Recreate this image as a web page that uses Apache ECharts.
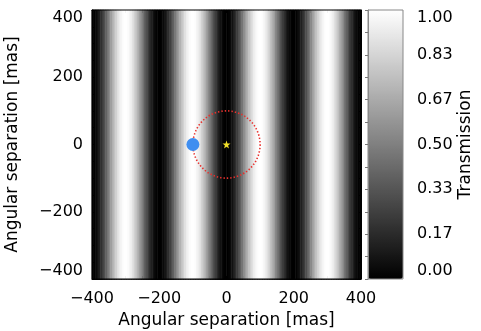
<!DOCTYPE html>
<html>
<head>
<meta charset="utf-8">
<script src="https://cdn.jsdelivr.net/npm/echarts@6/dist/echarts.min.js"></script>
<style>
html, body { margin: 0; padding: 0; background: #fff; }
#main { width: 481px; height: 331px; }
</style>
</head>
<body>
<div id="main"></div>
<script>
// transmission across one 200-mas fringe period, in 5-mas wide columns (dark -> bright -> dark)
var fringe = [
	0.00, 0.01, 0.04, 0.07, 0.12, 0.18, 0.24, 0.31, 0.38, 0.46,
	0.54, 0.62, 0.69, 0.76, 0.82, 0.88, 0.93, 0.96, 0.99, 1.00,
	1.00, 0.99, 0.96, 0.93, 0.88, 0.82, 0.76, 0.69, 0.62, 0.54,
	0.46, 0.38, 0.31, 0.24, 0.18, 0.12, 0.07, 0.04, 0.01, 0.00
];
// the map from x = -400 to +400 mas shows four identical periods
var transmission = fringe.concat(fringe, fringe, fringe);
var hostStar = [[0, 0]];
var companion = [[-100, 0]];
var ring = [[0, 0, 100]];   // centre x, centre y, radius (mas)
// colour bar is labelled in sixths of full transmission
var colorbarSteps = 6;

var font = 'DejaVu Sans';
var minus = function (v) { return String(v).replace('-', '\u2212'); };

var columns = transmission.map(function (v, i) { return i; });
var cells = transmission.map(function (v, i) { return [i, 0, v]; });

function frameAxis(extra) {
	var a = {
		min: -400, max: 400, interval: 200,
		axisLine: { show: true, onZero: false, lineStyle: { color: '#000', width: 1 } },
		axisTick: { show: true, inside: true, length: 3, lineStyle: { color: '#000' } },
		minorTick: { show: true, splitNumber: 4, length: 3, lineStyle: { color: '#000' } },
		splitLine: { show: false },
		axisLabel: { show: false }
	};
	for (var k in extra) a[k] = extra[k];
	return a;
}

var myChart = echarts.init(document.getElementById('main'));

myChart.setOption({
	animation: false,
	textStyle: { fontFamily: font },
	grid: [
		{ left: 92, top: 10, width: 269, height: 269, show: true, borderColor: '#000', borderWidth: 1, z: 5,
			containLabel: false, outerBoundsMode: 'none' },
		{ left: 368, top: 10, width: 35, height: 269, show: true, borderColor: '#888', borderWidth: 1,
			backgroundColor: 'transparent', z: 6, containLabel: false, outerBoundsMode: 'none' }
	],
	xAxis: [
		{ type: 'category', gridIndex: 0, data: columns, show: false },
		frameAxis({ type: 'value', gridIndex: 0, position: 'bottom',
			name: 'Angular separation [mas]', nameLocation: 'middle', nameGap: 33,
			nameTextStyle: { fontSize: 17, color: '#000', fontFamily: font },
			axisLabel: { show: true, margin: 12, fontSize: 16, color: '#000', fontFamily: font, formatter: minus } }),
		frameAxis({ type: 'value', gridIndex: 0, position: 'top' }),
		{ type: 'value', gridIndex: 1, show: false, min: 0, max: 1 }
	],
	yAxis: [
		{ type: 'category', gridIndex: 0, data: ['t'], show: false },
		frameAxis({ type: 'value', gridIndex: 0, position: 'left',
			name: 'Angular separation [mas]', nameLocation: 'middle', nameGap: 71,
			nameTextStyle: { fontSize: 17, color: '#000', fontFamily: font },
			axisLabel: { show: true, margin: 9, fontSize: 16, color: '#000', fontFamily: font, formatter: minus,
				verticalAlignMinLabel: 'bottom', verticalAlignMaxLabel: 'top' } }),
		frameAxis({ type: 'value', gridIndex: 0, position: 'right' }),
		{
			type: 'value', gridIndex: 1, position: 'right', min: 0, max: colorbarSteps, interval: 1, z: 6,
			name: 'Transmission', nameLocation: 'middle', nameGap: 54,
			nameTextStyle: { fontSize: 17, color: '#000', fontFamily: font },
			axisLine: { show: true, lineStyle: { color: '#888' } },
			axisTick: { show: true, inside: true, length: 3, lineStyle: { color: '#777' } },
			minorTick: { show: true, splitNumber: 2, length: 3, lineStyle: { color: '#777' } },
			splitLine: { show: false },
			axisLabel: { margin: 14, fontSize: 16, color: '#000', fontFamily: font,
				formatter: function (v) { return (v / colorbarSteps).toFixed(2); },
				verticalAlignMinLabel: 'bottom', verticalAlignMaxLabel: 'top' }
		}
	],
	visualMap: {
		type: 'continuous',
		min: 0, max: 1,
		seriesIndex: 0,
		calculable: false,
		hoverLink: false,
		left: 368, top: 10,
		padding: 0,
		itemWidth: 35, itemHeight: 269,
		text: null,
		inRange: { color: ['#000000', '#ffffff'] }
	},
	series: [
		{
			name: 'transmission',
			type: 'heatmap',
			xAxisIndex: 0, yAxisIndex: 0,
			data: cells,
			itemStyle: { borderWidth: 0 },
			emphasis: { disabled: true }
		},
		{
			name: 'ring',
			type: 'custom',
			xAxisIndex: 1, yAxisIndex: 1,
			data: ring,
			z: 3,
			renderItem: function (params, api) {
				var c = api.coord([api.value(0), api.value(1)]);
				var r = api.size([api.value(2), 0])[0];
				return {
					type: 'circle',
					shape: { cx: c[0], cy: c[1], r: r },
					style: { fill: 'none', stroke: '#e8302c', lineWidth: 1.6, lineDash: [1.4, 2] }
				};
			}
		},
		{
			name: 'companion',
			type: 'scatter',
			xAxisIndex: 1, yAxisIndex: 1,
			data: companion,
			symbol: 'circle',
			symbolSize: 13,
			itemStyle: { color: '#3f8ef0', opacity: 1 },
			z: 4
		},
		{
			name: 'host',
			type: 'scatter',
			xAxisIndex: 1, yAxisIndex: 1,
			data: hostStar,
			symbol: 'path://M0,-10 L2.4,-3.2 9.5,-3.1 3.8,1.2 5.9,8.1 0,4 -5.9,8.1 -3.8,1.2 -9.5,-3.1 -2.4,-3.2Z',
			symbolSize: 8,
			itemStyle: { color: '#f2e02a', opacity: 1 },
			z: 5
		}
	]
});
</script>
</body>
</html>
